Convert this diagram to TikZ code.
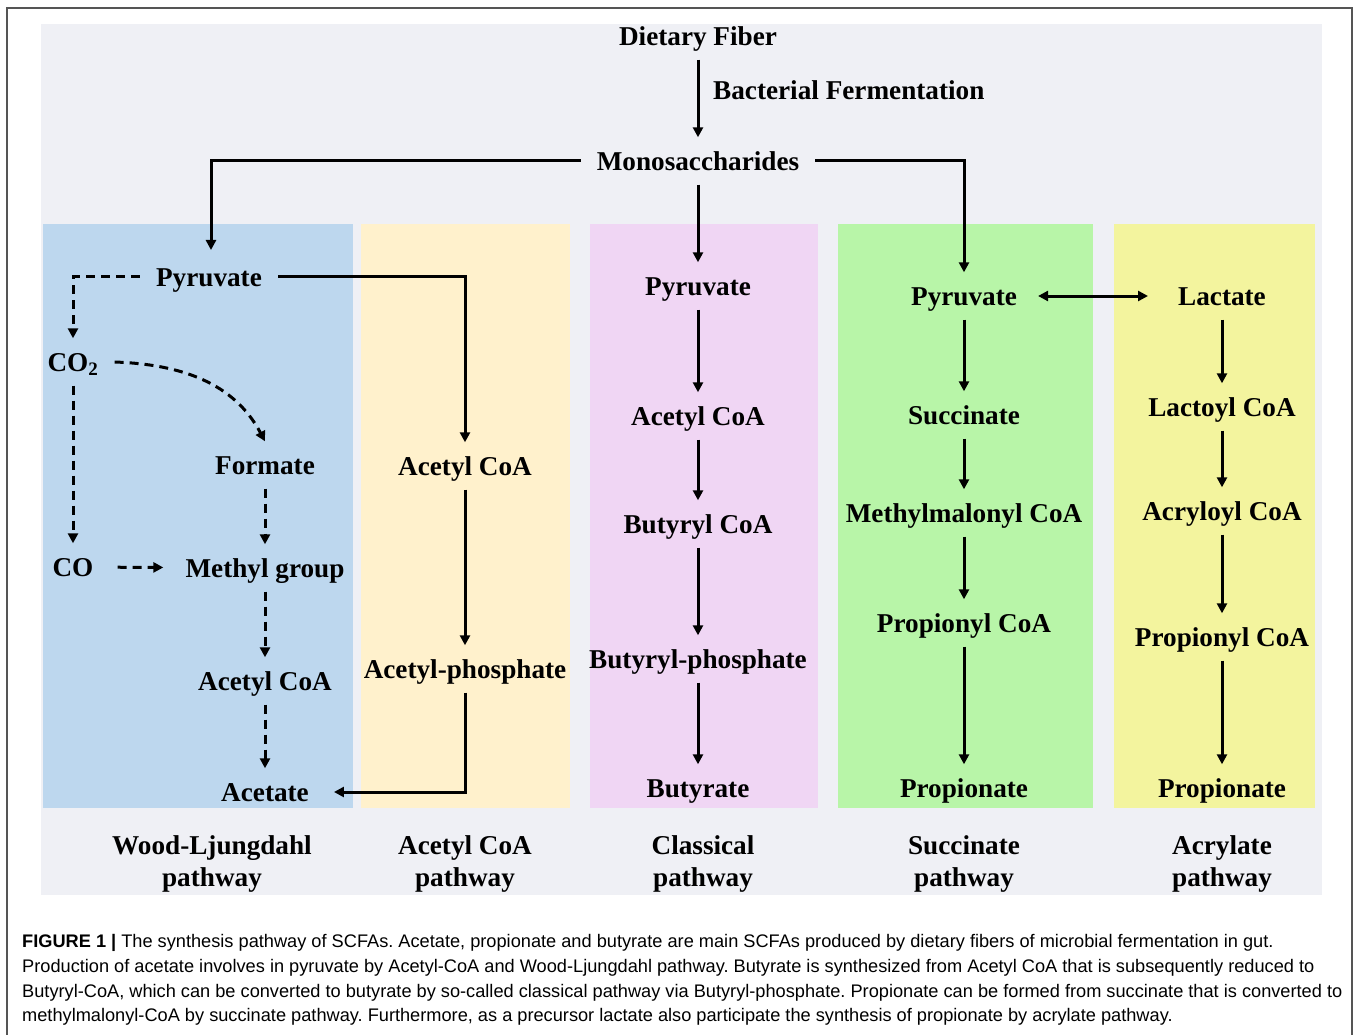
\documentclass[tikz,border=0pt]{standalone}
\usepackage{fontspec}
\setmainfont{Liberation Serif}
\setsansfont{Liberation Sans}
\usetikzlibrary{arrows.meta}
\definecolor{panelgray}{HTML}{EFF0F5}
\definecolor{wlblue}{HTML}{BDD7EE}
\definecolor{acyellow}{HTML}{FFF1CC}
\definecolor{clpink}{HTML}{F0D6F4}
\definecolor{scgreen}{HTML}{B8F5A8}
\definecolor{arlime}{HTML}{F3F49E}
\definecolor{framegray}{HTML}{555555}
\begin{document}
\begin{tikzpicture}[x=1pt,y=-1pt,
	lbl/.style={font=\bfseries\fontsize{27.2}{32}\selectfont, text height=22pt, text depth=3pt, inner xsep=16pt, inner ysep=11pt},
	pw/.style={font=\bfseries\fontsize{27.2}{32}\selectfont, align=center, inner sep=0pt},
	flow/.style={-{Triangle[length=10pt,width=10pt]}, line width=3pt},
	dflow/.style={flow, dash pattern=on 9pt off 6pt},
	captxt/.style={anchor=west, font=\sffamily\fontsize{18.2}{20}\selectfont\frenchspacing, inner sep=0pt}]
	\useasboundingbox (0,0) rectangle (1358,1035);
	% frame and panels
	\draw[framegray, line width=1.5pt] (7,1040) -- (7,8) -- (1352,8) -- (1352,1040);
	\fill[panelgray] (41,24) rectangle (1322,895);
	\fill[wlblue] (43,224) rectangle (353,808);
	\fill[acyellow] (361,224) rectangle (570,808);
	\fill[clpink] (590,224) rectangle (818,808);
	\fill[scgreen] (838,224) rectangle (1093,808);
	\fill[arlime] (1114,224) rectangle (1315,808);
	% top
	\node[lbl] (fiber) at (698,36) {Dietary Fiber};
	\node[lbl] (mono) at (698,161) {Monosaccharides};
	\node[lbl, anchor=west, inner xsep=0pt] (ferm) at (713,90) {Bacterial Fermentation};
	\draw[flow] (fiber) -- (mono);
	\draw[flow] (mono.west) -| (211,250);
	% Wood-Ljungdahl
	\node[lbl] (wlpyr) at (209,277) {Pyruvate};
	\node[lbl] (co2) at (73,362) {CO$_\mathbf{2}$};
	\node[lbl] (formate) at (265,465) {Formate};
	\node[lbl] (co) at (73,567) {CO};
	\node[lbl] (methyl) at (265,568) {Methyl group};
	\node[lbl] (wlacoa) at (265,681) {Acetyl CoA};
	\node[lbl] (acetate) at (265,792) {Acetate};
	\draw[dflow] (wlpyr.west) -| (co2);
	\draw[dflow] (co2.east) to[out=-2, in=118] (formate.north);
	\draw[dflow] (co2) -- (co);
	\draw[dflow, shorten <=8pt, shorten >=6pt] (co) -- (methyl);
	\foreach \a/\b in {formate/methyl, methyl/wlacoa, wlacoa/acetate}
		\draw[dflow] (\a) -- (\b);
	% Acetyl CoA pathway
	\node[lbl] (acacoa) at (465,466) {Acetyl CoA};
	\node[lbl] (acph) at (465,669) {Acetyl-phosphate};
	\draw[flow] (wlpyr.east) -| (acacoa);
	\draw[flow] (acacoa) -- (acph);
	\draw[flow] (acph) |- ([xshift=9pt]acetate.east);
	% Classical
	\node[lbl] (clpyr) at (698,286) {Pyruvate};
	\node[lbl] (clacoa) at (698,416) {Acetyl CoA};
	\node[lbl] (bucoa) at (698,524) {Butyryl CoA};
	\node[lbl] (buph) at (698,659) {Butyryl-phosphate};
	\node[lbl] (butyrate) at (698,788) {Butyrate};
	\draw[flow] (mono) -- (clpyr);
	\foreach \a/\b in {clpyr/clacoa, clacoa/bucoa, bucoa/buph, buph/butyrate}
		\draw[flow] (\a) -- (\b);
	% Succinate
	\node[lbl] (scpyr) at (964,296) {Pyruvate};
	\node[lbl] (succ) at (964,415) {Succinate};
	\node[lbl] (mmcoa) at (964,513) {Methylmalonyl CoA};
	\node[lbl] (scprcoa) at (964,623) {Propionyl CoA};
	\node[lbl] (scprop) at (964,788) {Propionate};
	\draw[flow] (mono.east) -| (scpyr);
	\foreach \a/\b in {scpyr/succ, succ/mmcoa, mmcoa/scprcoa, scprcoa/scprop}
		\draw[flow] (\a) -- (\b);
	% Acrylate
	\node[lbl] (lact) at (1222,296) {Lactate};
	\node[lbl] (lacoa) at (1222,407) {Lactoyl CoA};
	\node[lbl] (accoa) at (1222,511) {Acryloyl CoA};
	\node[lbl] (arprcoa) at (1222,637) {Propionyl CoA};
	\node[lbl] (arprop) at (1222,788) {Propionate};
	\draw[{Triangle[length=10pt,width=10pt]}-{Triangle[length=10pt,width=10pt]}, line width=3pt, shorten <=5pt, shorten >=14pt] (scpyr) -- (lact);
	\foreach \a/\b in {lact/lacoa, lacoa/accoa, accoa/arprcoa, arprcoa/arprop}
		\draw[flow] (\a) -- (\b);
	% pathway names
	\node[pw] (wlname) at (212,864) {Wood-Ljungdahl\\pathway};
	\node[pw] (acname) at (465,864) {Acetyl CoA\\pathway};
	\node[pw] (clname) at (703,864) {Classical\\pathway};
	\node[pw] (scname) at (964,864) {Succinate\\pathway};
	\node[pw] (arname) at (1222,864) {Acrylate\\pathway};
	% caption
	\node[captxt] (cap1) at (22,943) {\textbf{FIGURE 1 |} The synthesis pathway of SCFAs. Acetate, propionate and butyrate are main SCFAs produced by dietary fibers of microbial fermentation in gut.};
	\node[captxt] (cap2) at (22,968) {Production of acetate involves in pyruvate by Acetyl-CoA and Wood-Ljungdahl pathway. Butyrate is synthesized from Acetyl CoA that is subsequently reduced to};
	\node[captxt] (cap3) at (22,993) {Butyryl-CoA, which can be converted to butyrate by so-called classical pathway via Butyryl-phosphate. Propionate can be formed from succinate that is converted to};
	\node[captxt] (cap4) at (22,1017) {methylmalonyl-CoA by succinate pathway. Furthermore, as a precursor lactate also participate the synthesis of propionate by acrylate pathway.};
\end{tikzpicture}
\end{document}
